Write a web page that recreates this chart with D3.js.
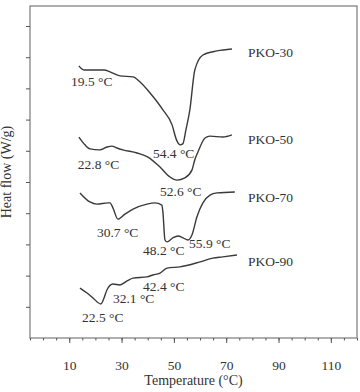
<!DOCTYPE html>
<html>
<head>
<meta charset="utf-8">
<script src="https://cdn.jsdelivr.net/npm/d3@7"></script>
<style>
  body { margin: 0; background: #fff; }
  svg text { font-family: "Liberation Serif", "Times New Roman", serif; fill: #333; }
</style>
</head>
<body>
<svg id="chart"></svg>
<script>
// DSC curves (temperature in degC, heat flow in arbitrary units)
const pko30T = [13.7, 15.6, 17.9, 23.3, 25.6, 29.4, 34.4, 37.0, 40.9, 45.8, 49.3, 51.0, 52.4, 53.4, 54.6, 56.1, 58.0, 61.1, 66.5, 72.2];
const pko30H = [8.72, 8.59, 8.59, 8.59, 8.53, 8.40, 8.37, 8.21, 7.85, 7.31, 6.83, 6.35, 6.19, 6.22, 6.67, 7.31, 8.59, 9.07, 9.20, 9.26];

const pko50T = [13.7, 16.0, 17.9, 21.7, 24.4, 26.3, 28.2, 30.5, 35.9, 40.1, 44.7, 48.5, 51.2, 54.2, 56.9, 58.0, 59.2, 61.9, 63.8, 68.7, 72.2];
const pko50H = [6.44, 6.19, 6.06, 6.03, 6.12, 6.15, 6.09, 6.03, 5.93, 5.80, 5.48, 5.16, 5.06, 5.13, 5.38, 5.71, 5.96, 6.41, 6.47, 6.44, 6.51];

const pko70T = [14.1, 17.9, 20.6, 24.8, 25.6, 26.7, 28.6, 31.3, 34.4, 39.7, 42.8, 45.4, 45.8, 46.6, 47.4, 49.6, 51.6, 53.5, 55.4, 56.9, 58.8, 61.1, 63.8, 66.5, 73.3];
const pko70H = [4.65, 4.36, 4.29, 4.33, 4.33, 4.17, 3.81, 3.97, 4.13, 4.29, 4.33, 4.26, 4.04, 3.14, 3.08, 3.21, 3.27, 3.21, 3.14, 3.30, 3.88, 4.33, 4.58, 4.65, 4.68];

const pko90T = [14.1, 16.8, 19.1, 22.1, 23.3, 24.4, 26.7, 29.4, 32.1, 34.4, 39.7, 42.0, 44.7, 47.4, 52.3, 60.0, 64.9, 68.7, 74.1];
const pko90H = [1.60, 1.44, 1.28, 1.09, 1.28, 1.54, 1.73, 1.70, 1.83, 1.92, 1.96, 2.02, 2.08, 2.24, 2.28, 2.44, 2.56, 2.60, 2.66];

const seriesNames = ["PKO-30", "PKO-50", "PKO-70", "PKO-90"];
const nameH = [9.01, 6.22, 4.36, 2.31];

// peak annotations: text, anchor temperature, anchor heat flow
const peakText = ["19.5 °C", "54.4 °C", "22.8 °C", "52.6 °C", "30.7 °C", "48.2 °C", "55.9 °C", "42.4 °C", "32.1 °C", "22.5 °C"];
const peakT = [10.7, 42.0, 13.3, 44.7, 20.6, 38.2, 55.8, 38.2, 26.7, 14.9];
const peakH = [8.08, 5.77, 5.42, 4.55, 3.24, 2.66, 2.88, 1.51, 1.12, 0.51];

const xMajor = [10, 30, 50, 70, 90, 110];
const xMinor = d3.range(-5, 121, 5);
const yTicks = d3.range(1, 11);

let width = 360, height = 392;
let margin = { top: 6, right: 3, bottom: 54, left: 30 };

let svg = d3.select("#chart")
  .attr("width", width)
  .attr("height", height);

let x = d3.scaleLinear()
  .domain([-5, 120])
  .range([margin.left, width - margin.right]);

let y = d3.scaleLinear()
  .domain([0, 10.64])
  .range([height - margin.bottom, margin.top]);

// frame
svg.append("rect")
  .attr("x", x(-5))
  .attr("y", y(10.64))
  .attr("width", x(120) - x(-5))
  .attr("height", y(0) - y(10.64))
  .attr("fill", "none")
  .attr("stroke", "#7a7a7a")
  .attr("stroke-width", 1.2);

// x axis, minor ticks then major ones with labels
svg.append("g")
  .attr("transform", `translate(0,${y(0)})`)
  .call(d3.axisBottom(x).tickValues(xMinor).tickSize(2.5).tickFormat(""))
  .call(g => g.select(".domain").remove())
  .call(g => g.selectAll("line").attr("stroke", "#555"));

let xAxis = svg.append("g")
  .attr("transform", `translate(0,${y(0)})`)
  .call(d3.axisBottom(x).tickValues(xMajor).tickSize(5).tickPadding(17))
  .call(g => g.select(".domain").remove())
  .call(g => g.selectAll("line").attr("stroke", "#555"));
xAxis.selectAll("text")
  .attr("font-size", 13.5)
  .style("font-family", '"Liberation Serif", serif')
  .attr("fill", "#333");

// y axis, ticks only
svg.append("g")
  .attr("transform", `translate(${x(-5)},0)`)
  .call(d3.axisLeft(y).tickValues(yTicks).tickSize(4).tickFormat(""))
  .call(g => g.select(".domain").remove())
  .call(g => g.selectAll("line").attr("stroke", "#555"));

// curves
const curves = [
  pko30T.map((t, i) => [t, pko30H[i]]),
  pko50T.map((t, i) => [t, pko50H[i]]),
  pko70T.map((t, i) => [t, pko70H[i]]),
  pko90T.map((t, i) => [t, pko90H[i]])
];

let line = d3.line()
  .x(d => x(d[0]))
  .y(d => y(d[1]))
  .curve(d3.curveMonotoneX);

svg.selectAll(".curve")
  .data(curves)
  .enter()
  .append("path")
  .attr("class", "curve")
  .attr("d", line)
  .attr("fill", "none")
  .attr("stroke", "#3a3a3a")
  .attr("stroke-width", 1.4)
  .attr("stroke-linejoin", "round");

// series names
svg.selectAll(".name")
  .data(seriesNames)
  .enter()
  .append("text")
  .attr("class", "name")
  .attr("x", x(78.3))
  .attr("y", (d, i) => y(nameH[i]))
  .attr("font-size", 13.5)
  .text(d => d);

// peak temperatures
svg.selectAll(".peak")
  .data(peakText)
  .enter()
  .append("text")
  .attr("class", "peak")
  .attr("x", (d, i) => x(peakT[i]))
  .attr("y", (d, i) => y(peakH[i]))
  .attr("font-size", 13.5)
  .text(d => d);

// axis titles
svg.append("text")
  .attr("x", (x(-5) + x(120)) / 2)
  .attr("y", 385)
  .attr("text-anchor", "middle")
  .attr("font-size", 14)
  .text("Temperature (°C)");

svg.append("text")
  .attr("transform", `translate(11,${(y(0) + y(10.64)) / 2}) rotate(-90)`)
  .attr("text-anchor", "middle")
  .attr("font-size", 14)
  .text("Heat flow (W/g)");
</script>
</body>
</html>
